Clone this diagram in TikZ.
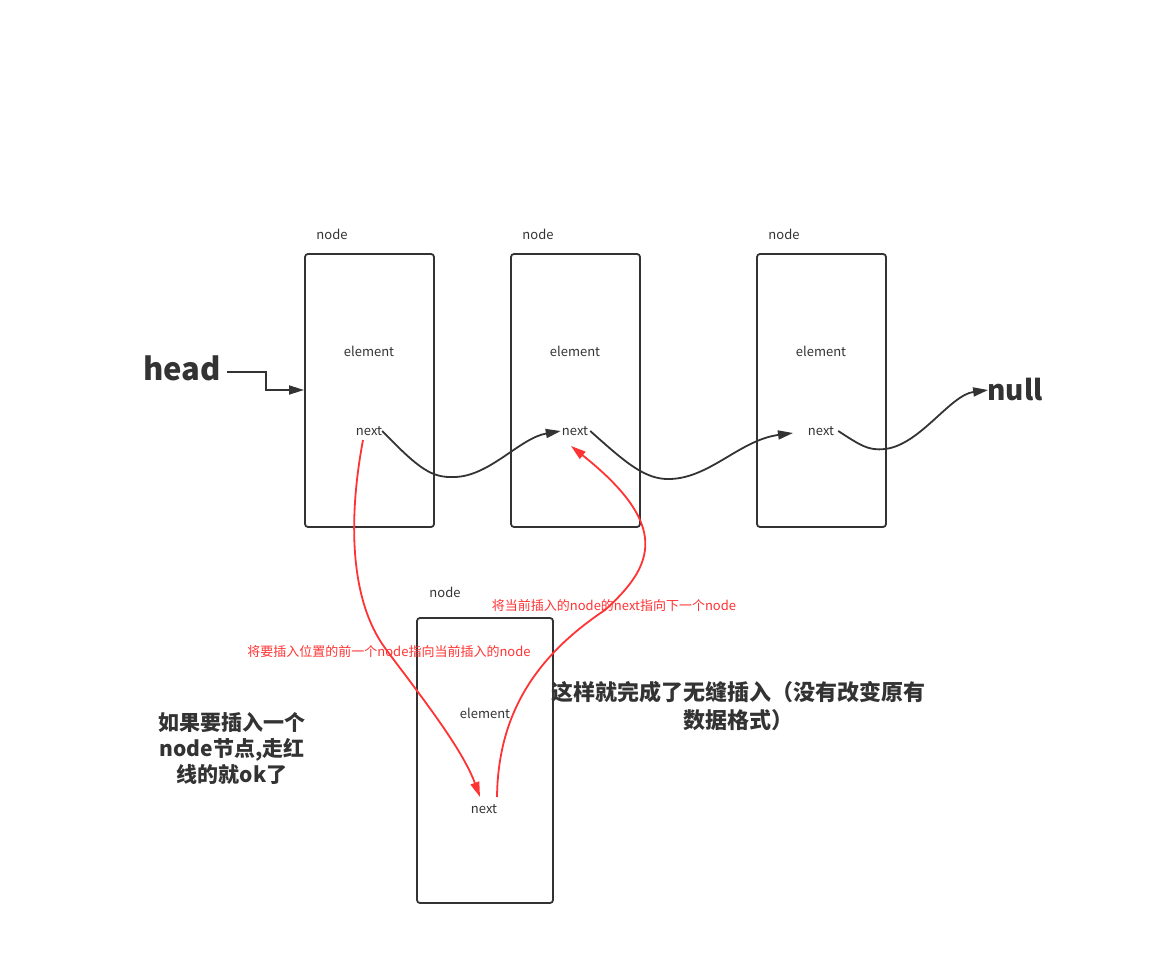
\documentclass[tikz,border=0pt]{standalone}
\usepackage{fontspec}
\setmainfont{Noto Sans CJK SC}
\usetikzlibrary{arrows.meta}
\definecolor{ink}{HTML}{333333}
\definecolor{redl}{HTML}{FF3333}
\begin{document}
\begin{tikzpicture}[x=1pt,y=-1pt,
  box/.style={draw=ink,line width=1.8pt,rounded corners=3pt},
  small/.style={text=ink,font=\fontsize{13}{15}\selectfont,inner sep=0pt},
  big/.style={text=ink,font=\fontsize{31}{34}\selectfont\bfseries,inner sep=0pt},
  cn/.style={text=ink,align=center,inner sep=0pt},
  rlab/.style={text=redl,font=\fontsize{13}{15}\selectfont,inner sep=0pt},
  blk/.style={draw=ink,line width=1.8pt,-{Triangle[length=15pt,width=9pt]}},
  red/.style={draw=redl,line width=1.8pt,-{Triangle[length=15pt,width=9pt]}}]
\useasboundingbox (0,0) rectangle (1157,965);
% boxes
\draw[box] (305,254) rectangle (434,527);
\draw[box] (511,254) rectangle (640,527);
\draw[box] (757,254) rectangle (886,527);
\draw[box] (417,618) rectangle (553,903);
% labels
\node[small] (t1) at (332,234) {node};
\node[small] (t2) at (538,234) {node};
\node[small] (t3) at (784,234) {node};
\node[small] (t4) at (445,592) {node};
\node[small] (e1) at (369,351) {element};
\node[small] (e2) at (575,351) {element};
\node[small] (e3) at (821,351) {element};
\node[small] (e4) at (485,713) {element};
\node[small] (n1) at (369,431) {next};
\node[small] (n2) at (575,431) {next};
\node[small] (n3) at (821,431) {next};
\node[small] (n4) at (484,809) {next};
\node[big] (head) at (182,368) {head};
\node[big,font=\fontsize{28}{32}\selectfont\bfseries] (null) at (1015,390) {null};
\coordinate (hs) at (227,372);
\coordinate (hin) at (304,390);
\coordinate (n3in) at (793,433);
\coordinate (r1s) at (363,440);
\coordinate (r1e) at (480,797);
\coordinate (r2s) at (497,797);
\coordinate (r2e) at (571,446);
% head arrow
\draw[blk] (hs) -| (266,381) |- (hin);
% black next curves
\draw[blk] (n1.east) .. controls (420,470) and (432,478) .. (455,477)
  .. controls (490,476) and (520,438) .. ([xshift=-1]n2.west);
\draw[blk] ([xshift=2]n2.east) .. controls (625,462) and (645,480) .. (670,479)
  .. controls (710,478) and (740,440) .. (n3in);
\draw[blk] ([xshift=4]n3.east) .. controls (860,445) and (868,451) .. (885,449)
  .. controls (920,445) and (950,395) .. ([xshift=1]null.west);
% red curves
\draw[red] (r1s) .. controls (348,520) and (350,600) .. (385,648)
  .. controls (420,695) and (462,748) .. (r1e);
\draw[red] (r2s) .. controls (498,720) and (530,660) .. (605,610)
  .. controls (655,565) and (670,525) .. (r2e);
% red labels
\node[rlab] (r1) at (614,606) {将当前插入的node的next指向下一个node};
\node[rlab] (r2) at (389,652) {将要插入位置的前一个node指向当前插入的node};
% Chinese notes
\node[cn,font=\fontsize{22}{28}\selectfont\bfseries] (c1) at (738,706) {这样就完成了无缝插入（没有改变原有\\数据格式）};
\node[cn,font=\fontsize{21}{26}\selectfont\bfseries] (c2) at (232,749) {如果要插入一个\\node节点,走红\\线的就ok了};
\end{tikzpicture}
\end{document}
